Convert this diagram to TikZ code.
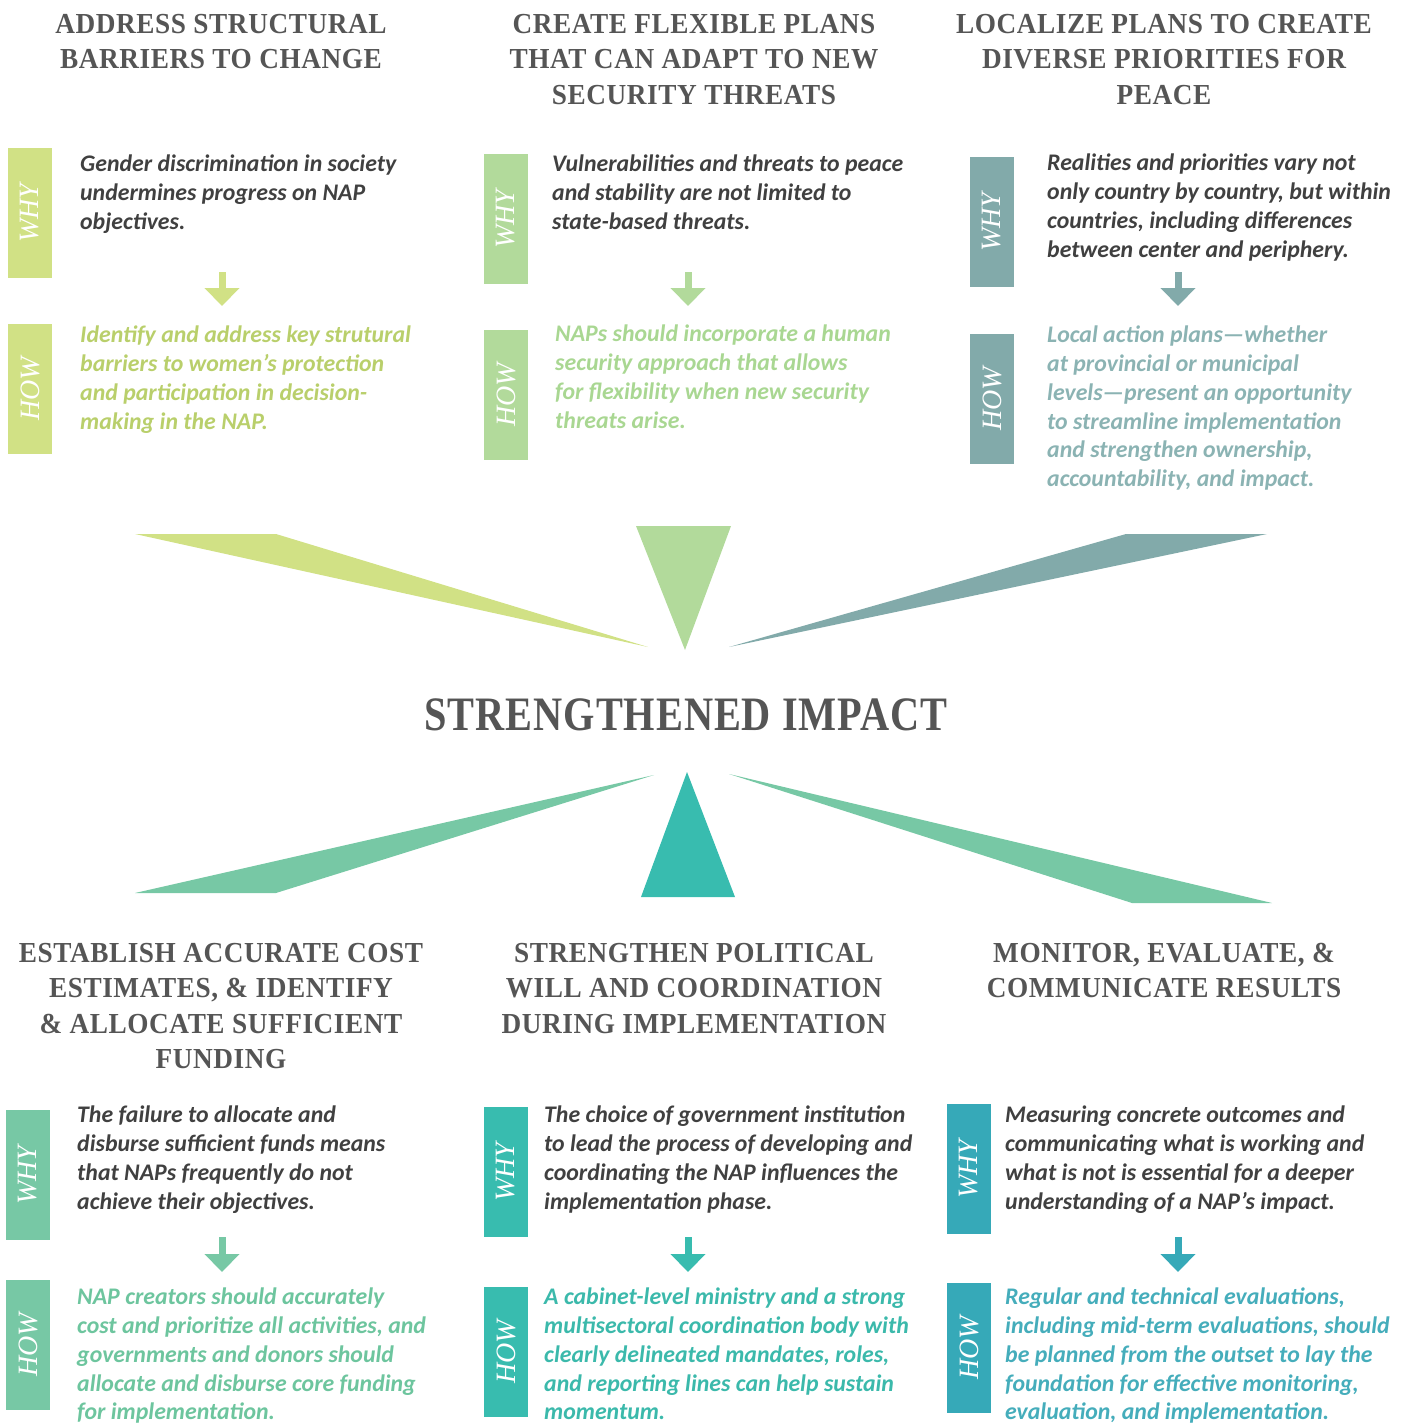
\documentclass[tikz,border=0pt]{standalone}
\usepackage{fontspec}
\setmainfont{Carlito}
\newfontfamily\headfont[FakeStretch=0.94,LetterSpace=2]{Liberation Serif}
\newfontfamily\bigfont[FakeStretch=0.84,LetterSpace=2]{Liberation Serif}
\newfontfamily\tagfont{Liberation Serif}
\usetikzlibrary{arrows.meta,positioning}

\definecolor{ink}{HTML}{404040}
\definecolor{headgray}{HTML}{555555}
\definecolor{lime}{HTML}{D1E185}
\definecolor{limetext}{HTML}{B9CF6B}
\definecolor{leaf}{HTML}{B2DA9B}
\definecolor{leaftext}{HTML}{A9D792}
\definecolor{slate}{HTML}{82AAAA}
\definecolor{slatetext}{HTML}{8BB3B3}
\definecolor{mint}{HTML}{77C8A5}
\definecolor{minttext}{HTML}{6DC59E}
\definecolor{teal}{HTML}{38BCAF}
\definecolor{tealtext}{HTML}{3BB9AB}
\definecolor{ocean}{HTML}{36A9B8}
\definecolor{oceantext}{HTML}{45ADBB}

\tikzset{
  heading/.style={anchor=north,align=center,inner sep=0pt,text=headgray,
    font=\headfont\bfseries\fontsize{29}{35.5}\selectfont},
  bigheading/.style={anchor=base,inner sep=0pt,text=headgray,
    font=\bigfont\bfseries\fontsize{48}{50}\selectfont},
  tagbar/.style={rotate=90,minimum width=130pt,minimum height=44pt,inner sep=0pt,
    text=white,font=\tagfont\itshape\fontsize{28}{28}\selectfont},
  body/.style={anchor=north west,align=left,inner sep=0pt,
    font=\bfseries\itshape\fontsize{23.8}{28.7}\selectfont},
  why/.style={body,text=ink},
  downarrow/.style={line width=7pt,-{Triangle[width=34pt,length=18pt]}},
}

\begin{document}
\begin{tikzpicture}[x=1pt,y=-1pt]
\useasboundingbox (0,0) rectangle (1411,1423);

% top row
\node[heading] (t1) at (221,14) {ADDRESS STRUCTURAL\\BARRIERS TO CHANGE};
\node[heading] (t2) at (694,14) {CREATE FLEXIBLE PLANS\\THAT CAN ADAPT TO NEW\\SECURITY THREATS};
\node[heading] (t3) at (1164,14) {LOCALIZE PLANS TO CREATE\\DIVERSE PRIORITIES FOR\\PEACE};

\node[tagbar,fill=lime] (w1) at (30,213) {WHY};
\node[tagbar,fill=lime] (h1) at (30,389) {HOW};
\node[why] (wt1) at (80,155) {Gender discrimination in society\\undermines progress on NAP\\objectives.};
\node[body,text=limetext] (ht1) at (80,326) {Identify and address key strutural\\barriers to women’s protection\\and participation in decision-\\making in the NAP.};
\coordinate (a1s) at (222,272);
\coordinate (a1e) at (222,306);
\draw[downarrow,lime] (a1s) -- (a1e);

\node[tagbar,fill=leaf] (w2) at (506,219) {WHY};
\node[tagbar,fill=leaf] (h2) at (506,395) {HOW};
\node[why] (wt2) at (552,155) {Vulnerabilities and threats to peace\\and stability are not limited to\\state-based threats.};
\node[body,text=leaftext] (ht2) at (555,325) {NAPs should incorporate a human\\security approach that allows\\for flexibility when new security\\threats arise.};
\coordinate (a2s) at (688,272);
\coordinate (a2e) at (688,306);
\draw[downarrow,leaf] (a2s) -- (a2e);

\node[tagbar,fill=slate] (w3) at (992,222) {WHY};
\node[tagbar,fill=slate] (h3) at (992,399) {HOW};
\node[why] (wt3) at (1047,154) {Realities and priorities vary not\\only country by country, but within\\countries, including differences\\between center and periphery.};
\node[body,text=slatetext] (ht3) at (1047,326) {Local action plans—whether\\at provincial or municipal\\levels—present an opportunity\\to streamline implementation\\and strengthen ownership,\\accountability, and impact.};
\coordinate (a3s) at (1178,272);
\coordinate (a3e) at (1178,306);
\draw[downarrow,slate] (a3s) -- (a3e);

% rays
\node[bigheading] (impact) at (686,730) {STRENGTHENED IMPACT};
\coordinate (tip1) at (648,647);
\coordinate (tip2) at (685,650);
\coordinate (tip3) at (729,647);
\coordinate (tip4) at (654,775);
\coordinate (tip5) at (687,772);
\coordinate (tip6) at (729,774);
\fill[lime] (135,534) -- (276,534) -- (tip1) -- cycle;
\fill[leaf] (636,526) -- (731,526) -- (tip2) -- cycle;
\fill[slate] (1126,534) -- (1267,534) -- (tip3) -- cycle;
\fill[mint] (135,893) -- (276,893) -- (tip4) -- cycle;
\fill[teal] (641,897) -- (735,897) -- (tip5) -- cycle;
\fill[mint] (1132,903) -- (1272,903) -- (tip6) -- cycle;

% bottom row
\node[heading] (b1) at (221,943) {ESTABLISH ACCURATE COST\\ESTIMATES, \& IDENTIFY\\\& ALLOCATE SUFFICIENT\\FUNDING};
\node[heading] (b2) at (694,943) {STRENGTHEN POLITICAL\\WILL AND COORDINATION\\DURING IMPLEMENTATION};
\node[heading] (b3) at (1164,943) {MONITOR, EVALUATE, \&\\COMMUNICATE RESULTS};

\node[tagbar,fill=mint] (w4) at (28,1175) {WHY};
\node[tagbar,fill=mint] (h4) at (28,1345) {HOW};
\node[why] (wt4) at (77,1106) {The failure to allocate and\\disburse sufficient funds means\\that NAPs frequently do not\\achieve their objectives.};
\node[body,text=minttext] (ht4) at (77,1288) {NAP creators should accurately\\cost and prioritize all activities, and\\governments and donors should\\allocate and disburse core funding\\for implementation.};
\coordinate (a4s) at (222,1237);
\coordinate (a4e) at (222,1272);
\draw[downarrow,mint] (a4s) -- (a4e);

\node[tagbar,fill=teal] (w5) at (506,1172) {WHY};
\node[tagbar,fill=teal] (h5) at (506,1352) {HOW};
\node[why] (wt5) at (544,1106) {The choice of government institution\\to lead the process of developing and\\coordinating the NAP influences the\\implementation phase.};
\node[body,text=tealtext] (ht5) at (544,1288) {A cabinet-level ministry and a strong\\multisectoral coordination body with\\clearly delineated mandates, roles,\\and reporting lines can help sustain\\momentum.};
\coordinate (a5s) at (688,1237);
\coordinate (a5e) at (688,1272);
\draw[downarrow,teal] (a5s) -- (a5e);

\node[tagbar,fill=ocean] (w6) at (969,1169) {WHY};
\node[tagbar,fill=ocean] (h6) at (969,1348) {HOW};
\node[why] (wt6) at (1005,1106) {Measuring concrete outcomes and\\communicating what is working and\\what is not is essential for a deeper\\understanding of a NAP’s impact.};
\node[body,text=oceantext] (ht6) at (1005,1288) {Regular and technical evaluations,\\including mid-term evaluations, should\\be planned from the outset to lay the\\foundation for effective monitoring,\\evaluation, and implementation.};
\coordinate (a6s) at (1178,1237);
\coordinate (a6e) at (1178,1272);
\draw[downarrow,ocean] (a6s) -- (a6e);
\end{tikzpicture}
\end{document}
